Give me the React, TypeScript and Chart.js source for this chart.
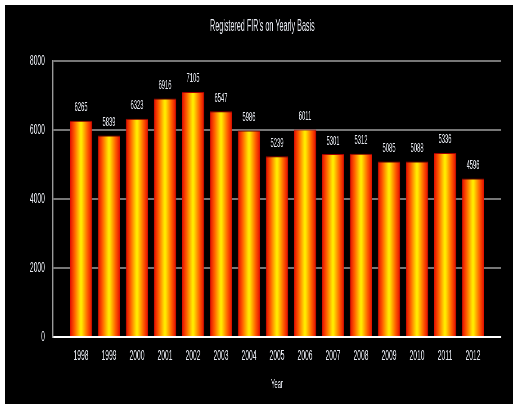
import React, { useEffect, useRef } from 'react';
import { Chart, registerables } from 'chart.js';

Chart.register(...registerables);

// FIRs registered per year
const years = ['1998', '1999', '2000', '2001', '2002', '2003', '2004', '2005', '2006', '2007', '2008', '2009', '2010', '2011', '2012'];
const firCounts = [6265, 5839, 6323, 6916, 7105, 6547, 5986, 5239, 6011, 5301, 5312, 5085, 5088, 5336, 4596];
const yMin = 0;
const yMax = 8000;
const yStep = 2000;
const chartTitle = "Registered FIR's on Yearly Basis";
const xTitle = 'Year';

// The chart is laid out on a wide canvas and squeezed horizontally,
// which gives the tall, narrow lettering of the original graphic.
const BOX_W = 508;
const BOX_H = 399;
const WIDE_W = 1129;
const SQUEEZE = BOX_W / WIDE_W;

const FONT = "'Liberation Sans', Arial, sans-serif";
const TEXT = '#e6e9f0';

// horizontal layout in wide-canvas pixels
const PAD_LEFT = 41.6;
const PLOT_LEFT = 48 / SQUEEZE;
const PLOT_RIGHT = 496 / SQUEEZE;
const PAD_RIGHT = WIDE_W - PLOT_RIGHT;

function barGradient(context: any) {
  const chart = context.chart;
  if (!chart.chartArea || context.type !== 'data') return '#ff8000';
  const xs = chart.scales.x;
  const c = xs.getPixelForValue(context.dataIndex);
  const half = (xs.getPixelForValue(1) - xs.getPixelForValue(0)) * 0.4;
  if (!isFinite(c) || !isFinite(half)) return '#ff8000';
  const g = chart.ctx.createLinearGradient(c - half, 0, c + half, 0);
  g.addColorStop(0, '#e00800');
  g.addColorStop(0.2, '#ff5a00');
  g.addColorStop(0.47, '#ffe800');
  g.addColorStop(0.53, '#ffe800');
  g.addColorStop(0.8, '#ff5a00');
  g.addColorStop(1, '#e00800');
  return g;
}

const valueLabels = {
  id: 'valueLabels',
  afterDatasetsDraw(chart: any) {
    const { ctx } = chart;
    const meta = chart.getDatasetMeta(0);
    const values = chart.data.datasets[0].data;
    ctx.save();
    ctx.font = `13px ${FONT}`;
    ctx.fillStyle = TEXT;
    ctx.textAlign = 'center';
    ctx.textBaseline = 'middle';
    meta.data.forEach((bar: any, i: number) => {
      const v = values[i];
      if (v == null) return;
      ctx.fillText(String(v), bar.x, bar.y - 13);
    });
    ctx.restore();
  },
};

export default function App() {
  const canvasRef = useRef<HTMLCanvasElement | null>(null);

  useEffect(() => {
    const canvas = canvasRef.current;
    if (!canvas) return;
    // one empty slot either side of the years
    const labels = ['', ...years, ''];
    const data = [null, ...firCounts, null];

    const chart = new Chart(canvas, {
      type: 'bar',
      data: {
        labels,
        datasets: [
          {
            data,
            backgroundColor: barGradient,
            borderColor: '#a00000',
            borderWidth: 1,
            borderSkipped: 'bottom',
            categoryPercentage: 1,
            barPercentage: 0.8,
          },
        ],
      },
      options: {
        animation: false,
        responsive: false,
        devicePixelRatio: 1,
        layout: {
          padding: { left: PAD_LEFT, right: PAD_RIGHT, top: 0, bottom: 12.2 },
        },
        plugins: {
          legend: { display: false },
          tooltip: { enabled: false },
          title: {
            display: true,
            text: chartTitle,
            color: TEXT,
            font: { family: FONT, size: 16, weight: 'normal' },
            padding: { top: 12, bottom: 24.8 },
          },
        },
        scales: {
          x: {
            offset: false,
            grid: { display: false, drawTicks: false },
            border: { display: true, color: '#ffffff', width: 2 },
            ticks: {
              color: TEXT,
              font: { family: FONT, size: 15 },
              padding: 10,
              autoSkip: false,
              maxRotation: 0,
            },
            title: {
              display: true,
              text: xTitle,
              color: TEXT,
              font: { family: FONT, size: 13 },
              padding: { top: 0, bottom: 0 },
            },
            afterFit: (scale: any) => {
              scale.height = 54.8;
            },
          },
          y: {
            min: yMin,
            max: yMax,
            grid: { color: '#777777', lineWidth: 2, drawTicks: false },
            border: { display: true, color: '#9a9a9a', width: 2.5 },
            ticks: {
              stepSize: yStep,
              color: TEXT,
              font: { family: FONT, size: 15 },
              padding: 18,
              callback: (v: any) => String(v),
            },
            afterFit: (scale: any) => {
              scale.width = PLOT_LEFT - PAD_LEFT;
            },
          },
        },
      },
      plugins: [valueLabels],
    });

    return () => chart.destroy();
  }, []);

  return (
    <div
      style={{
        position: 'absolute',
        left: 5,
        top: 5,
        width: BOX_W,
        height: BOX_H,
        background: '#000000',
        overflow: 'hidden',
      }}
    >
      <div
        style={{
          width: WIDE_W,
          height: BOX_H,
          transform: `scaleX(${SQUEEZE})`,
          transformOrigin: '0 0',
        }}
      >
        <canvas ref={canvasRef} width={WIDE_W} height={BOX_H} style={{ display: 'block' }} />
      </div>
    </div>
  );
}
